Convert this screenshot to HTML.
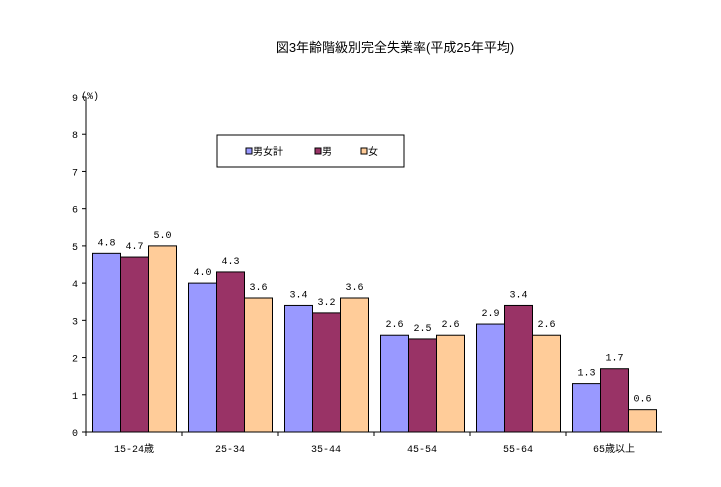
<!DOCTYPE html>
<html><head><meta charset="utf-8"><style>
body{margin:0;background:#fff;}
svg{display:block;font-family:"Liberation Mono","Noto Sans CJK JP",monospace;}
</style></head><body>
<svg width="721" height="487" viewBox="0 0 721 487">
<text x="395" y="52" text-anchor="middle" font-size="13" font-family="Liberation Sans, Noto Sans CJK JP, sans-serif">図3年齢階級別完全失業率(平成25年平均)</text>
<g id="plot"></g>
<g>
<rect x="217" y="135" width="187" height="32" fill="#fff" stroke="#000"/>
<rect x="246" y="148" width="6" height="6" fill="#9999ff" stroke="#000"/>
<text x="253" y="155" font-size="10">男女計</text>
<rect x="315" y="148" width="6" height="6" fill="#993366" stroke="#000"/>
<text x="322" y="155" font-size="10">男</text>
<rect x="361" y="148" width="6" height="6" fill="#ffcc99" stroke="#000"/>
<text x="368" y="155" font-size="10">女</text>
</g>
</svg>
<script>
const categories=["15-24歳","25-34","35-44","45-54","55-64","65歳以上"];
const total=[4.8,4.0,3.4,2.6,2.9,1.3];
const male=[4.7,4.3,3.2,2.5,3.4,1.7];
const female=[5.0,3.6,3.6,2.6,2.6,0.6];
const yTicks=[0,1,2,3,4,5,6,7,8,9];
const NS="http://www.w3.org/2000/svg";
const g=document.getElementById('plot');
const x0=86,x1=662,yZero=432,yTop=97,yMax=9;
const gw=(x1-x0)/categories.length;
function y(v){return yZero-(yZero-yTop)*v/yMax;}
function mk(t,a){const e=document.createElementNS(NS,t);for(const k in a)e.setAttribute(k,a[k]);g.appendChild(e);return e;}
let ax=mk('line',{x1:x0,y1:yTop,x2:x0,y2:yZero,stroke:'#000'});


let bx=mk('line',{x1:x0,y1:yZero,x2:x1,y2:yZero,stroke:'#000'});


yTicks.forEach(v=>{
 const tk=mk('line',{x1:x0-4,y1:y(v),x2:x0,y2:y(v),stroke:'#000'});
 
 
 const t=mk('text',{x:x0-8,y:y(v)+4,'font-size':10,'text-anchor':'end'});
 t.textContent=v;
 
 
});
const u=mk('text',{x:x0-5,y:yTop+2,'font-size':10});
u.textContent='(%)';


const series=[[total,'#9999ff','total'],[male,'#993366','male'],[female,'#ffcc99','female']];
const bw=28,off=6.5;
categories.forEach((c,i)=>{
 const gx=x0+gw*i;
 series.forEach((s,j)=>{
  const v=s[0][i],bxp=gx+off+bw*j;
  const r=mk('rect',{x:bxp,y:y(v),width:bw,height:yZero-y(v),fill:s[1],stroke:'#000','stroke-width':1});
  
  
  const t=mk('text',{x:bxp+bw/2,y:y(v)-8,'font-size':10,'text-anchor':'middle'});
  t.textContent=v.toFixed(1);
  
  
 });
 const tk=mk('line',{x1:gx,y1:yZero,x2:gx,y2:yZero+4,stroke:'#000'});
 
 
 const t=mk('text',{x:gx+gw/2,y:yZero+20,'font-size':10,'text-anchor':'middle'});
 t.textContent=c;
 
 
});
</script>
</body></html>
